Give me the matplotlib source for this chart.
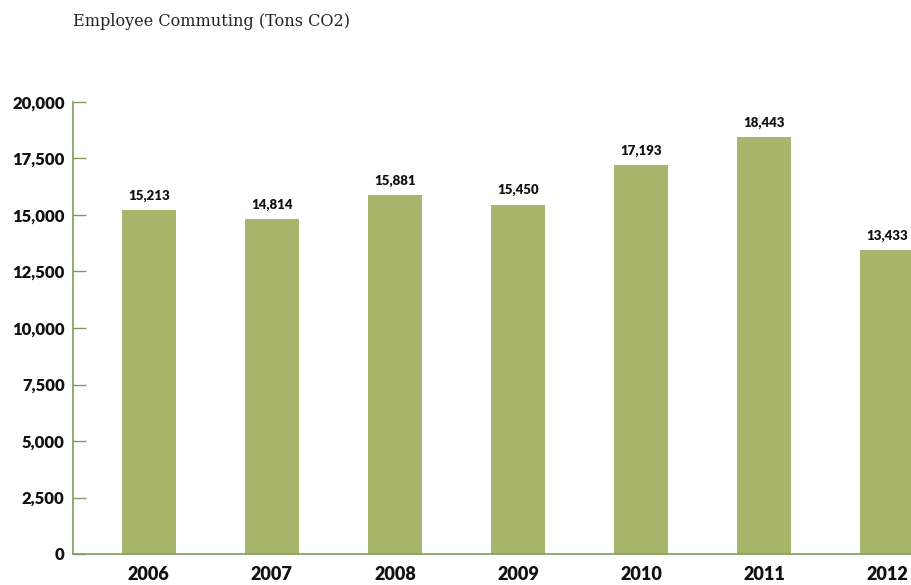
import matplotlib.pyplot as plt
import numpy as np

# data
years = ["2006", "2007", "2008", "2009", "2010", "2011", "2012"]
tons = [15213, 14814, 15881, 15450, 17193, 18443, 13433]
yticks = [0, 2500, 5000, 7500, 10000, 12500, 15000, 17500, 20000]

bar_color = "#a9b56a"
axis_color = "#819c5c"

fig = plt.figure(figsize=(9.12, 5.85), dpi=100)
ax = fig.add_axes([73 / 912, 31 / 585, 1 - 73 / 912, 452 / 585])

x = np.arange(len(years))
bars = ax.bar(x, tons, width=0.44, color=bar_color)

# value labels above bars
for xi, v in zip(x, tons):
    ax.annotate(f"{v:,}", (xi, v), xytext=(0, 6), textcoords="offset points",
                ha="center", va="bottom", fontsize=9.5, fontweight="heavy",
                family="Lato", color="#111111")

ax.set_xlim(-0.616, 6.2)
ax.set_ylim(0, 20000)
ax.set_xticks(x)
ax.set_xticklabels(years)
ax.set_yticks(yticks)
ax.set_yticklabels([f"{t:,}" for t in yticks])

for lbl in ax.get_xticklabels():
    lbl.set_fontsize(13)
    lbl.set_fontweight("heavy")
    lbl.set_family("Lato")
for lbl in ax.get_yticklabels():
    lbl.set_fontsize(12)
    lbl.set_fontweight("heavy")
    lbl.set_family("Lato")

ax.tick_params(axis="x", length=0, pad=9, colors="#111111")
ax.tick_params(axis="y", direction="in", length=9, width=1, color=axis_color,
               pad=6, labelcolor="#111111")

for s in ["top", "right"]:
    ax.spines[s].set_visible(False)
ax.spines["left"].set_color(axis_color)
ax.spines["bottom"].set_color(axis_color)
ax.spines["left"].set_linewidth(1.2)
ax.spines["bottom"].set_linewidth(1.2)

fig.text(73 / 912, 1 - 22 / 585, "Employee Commuting (Tons CO2)",
         ha="left", va="center", fontsize=11.6, family="DejaVu Serif",
         color="#222222")

fig.savefig("out.png", dpi=100)
